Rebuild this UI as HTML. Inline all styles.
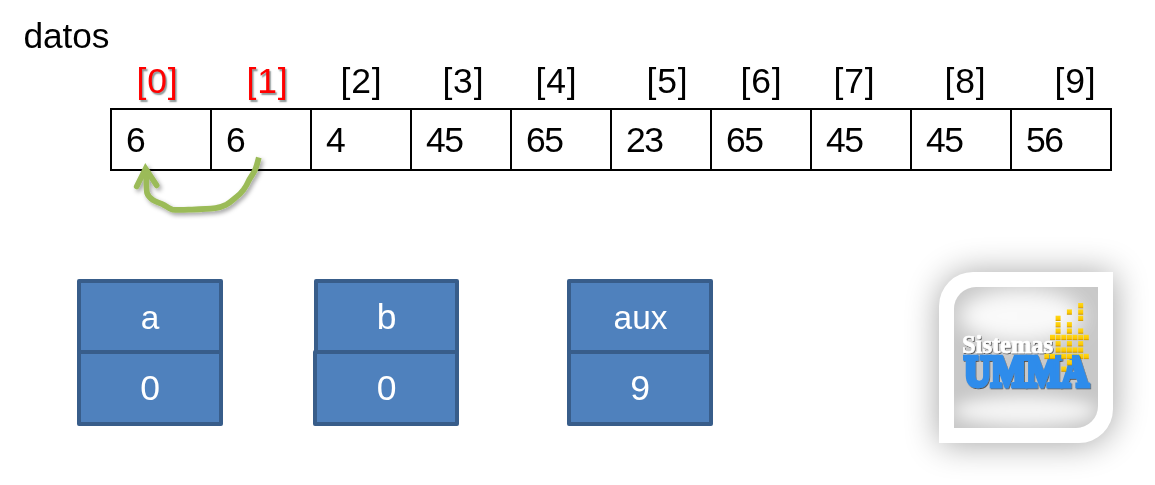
<!DOCTYPE html>
<html lang="es">
<head>
<meta charset="utf-8">
<title>datos</title>
<style>
html,body{margin:0;padding:0;background:#fff;}
body{width:1155px;height:485px;position:relative;overflow:hidden;font-family:"Liberation Sans",sans-serif;color:#000;}
.t{position:absolute;left:0;top:0;will-change:transform;white-space:nowrap;line-height:40px;height:40px;font-size:35.5px;}
.idx{letter-spacing:0.8px;}
.red{color:#ff0000;text-shadow:1.5px 1.5px 1.5px rgba(40,60,60,.55);}
#grid{position:absolute;left:110px;top:108px;width:1002px;height:63px;box-sizing:border-box;border:2px solid #000;}
#grid i{position:absolute;top:0;width:2px;height:59px;background:#000;}
.cell{letter-spacing:-1.5px;}
.box{position:absolute;background:#4f81bd;border:4px solid #385d8a;box-sizing:border-box;border-radius:2px;}
.bt{color:#fff;text-align:center;width:146px;}
svg{position:absolute;overflow:visible;}
</style>
</head>
<body>
<div class="t " style="transform:translate(23.55px,16.20px);font-size:35.3px;letter-spacing:-.15px">datos</div>
<div class="t idx red" style="transform:translate(136.55px,61.00px)">[0]</div>
<div class="t idx red" style="transform:translate(246.55px,61.00px)">[1]</div>
<div class="t idx" style="transform:translate(340.55px,61.00px)">[2]</div>
<div class="t idx" style="transform:translate(442.45px,61.00px)">[3]</div>
<div class="t idx" style="transform:translate(535.55px,61.00px)">[4]</div>
<div class="t idx" style="transform:translate(646.55px,61.00px)">[5]</div>
<div class="t idx" style="transform:translate(740.55px,61.00px)">[6]</div>
<div class="t idx" style="transform:translate(833.55px,61.00px)">[7]</div>
<div class="t idx" style="transform:translate(944.55px,61.00px)">[8]</div>
<div class="t idx" style="transform:translate(1054.55px,61.00px)">[9]</div>
<div id="grid"><i style="left:98px"></i><i style="left:198px"></i><i style="left:298px"></i><i style="left:398px"></i><i style="left:498px"></i><i style="left:598px"></i><i style="left:698px"></i><i style="left:798px"></i><i style="left:898px"></i></div>
<div class="t cell" style="transform:translate(126.00px,119.90px)">6</div>
<div class="t cell" style="transform:translate(226.00px,119.90px)">6</div>
<div class="t cell" style="transform:translate(326.00px,119.90px)">4</div>
<div class="t cell" style="transform:translate(426.00px,119.90px)">45</div>
<div class="t cell" style="transform:translate(526.00px,119.90px)">65</div>
<div class="t cell" style="transform:translate(626.00px,119.90px)">23</div>
<div class="t cell" style="transform:translate(726.00px,119.90px)">65</div>
<div class="t cell" style="transform:translate(826.00px,119.90px)">45</div>
<div class="t cell" style="transform:translate(926.00px,119.90px)">45</div>
<div class="t cell" style="transform:translate(1026.00px,119.90px)">56</div>
<svg id="arrow" style="left:120px;top:150px" width="160" height="75" viewBox="120 150 160 75">
<defs><filter id="ash" x="-20%" y="-20%" width="140%" height="150%"><feDropShadow dx="2" dy="2.5" stdDeviation="1.9" flood-color="#000" flood-opacity=".36"/></filter></defs>
<g filter="url(#ash)" fill="none" stroke="#9bbb59" stroke-width="5.7">
<path d="M258.8 157.5 C257.5 163 256.5 167 254.8 170.5 C252 176 250.5 177 248.8 180.5 C247 185 245.5 187 243.2 190.2 C240.5 194 238.5 195.5 236 197.3 C232 200.5 229.5 203 226.5 204.6 C222.5 206.5 219.5 207.6 215.4 208.1 C207 209 198 209.3 190.3 209.6 C184 209.9 178 210.3 172.2 209.6 C168.5 208.5 166 206 163.2 204.6 C159.5 203 156 202 153.1 200.1 C150 198 148 196 147.1 193.1 C146.2 190 146.4 183 146.2 172" stroke-linecap="butt" stroke-linejoin="round"/>
<path d="M136.7 186.5 L145.6 168.6 L156.7 185.4" stroke-linecap="round" stroke-linejoin="miter" stroke-miterlimit="10"/>
</g>
</svg>

<div class="box" style="left:77px;top:279px;width:146px;height:75px"></div>
<div class="box" style="left:77px;top:350px;width:146px;height:76px"></div>
<div class="box" style="left:314px;top:279px;width:145px;height:75px"></div>
<div class="box" style="left:313px;top:350px;width:146px;height:76px"></div>
<div class="box" style="left:567px;top:279px;width:146px;height:75px"></div>
<div class="box" style="left:567px;top:350px;width:146px;height:76px"></div>
<div class="t bt" style="transform:translate(77.00px,298.20px);font-size:33.4px">a</div>
<div class="t bt" style="transform:translate(77.00px,368.40px)">0</div>
<div class="t bt" style="transform:translate(313.50px,297.40px)">b</div>
<div class="t bt" style="transform:translate(313.50px,368.40px)">0</div>
<div class="t bt" style="transform:translate(567.50px,298.20px);font-size:33.4px">aux</div>
<div class="t bt" style="transform:translate(567.00px,368.40px)">9</div>
<svg id="logo" style="left:890px;top:225px" width="265" height="260" viewBox="890 225 265 260">
<defs>
<filter id="glow" x="-50%" y="-50%" width="200%" height="200%"><feGaussianBlur stdDeviation="17"/></filter>
<filter id="hb" x="-50%" y="-80%" width="200%" height="260%"><feGaussianBlur stdDeviation="10"/></filter>
<filter id="hb2" x="-50%" y="-150%" width="200%" height="400%"><feGaussianBlur stdDeviation="8"/></filter>
<clipPath id="pc"><path d="M976 287 H1098 V406 A22 22 0 0 1 1076 428 H954 V309 A22 22 0 0 1 976 287 Z"/></clipPath>
<linearGradient id="yel" x1="0" y1="0" x2="0" y2="1"><stop offset="0" stop-color="#ffd91a"/><stop offset=".7" stop-color="#fcc700"/><stop offset=".86" stop-color="#e3ab00"/><stop offset="1" stop-color="#bd8c00"/></linearGradient>
<filter id="tsh" x="-10%" y="-20%" width="120%" height="150%"><feDropShadow dx=".8" dy="1" stdDeviation=".5" flood-color="#000" flood-opacity=".6"/></filter>
</defs>
<path d="M973 272 H1113 V409 A34 34 0 0 1 1079 443 H939 V306 A34 34 0 0 1 973 272 Z" fill="#000" opacity=".36" filter="url(#glow)" transform="translate(.5 1)"/>
<path d="M973 272 H1113 V409 A34 34 0 0 1 1079 443 H939 V306 A34 34 0 0 1 973 272 Z" fill="#fff"/>
<g clip-path="url(#pc)">
<rect x="950" y="283" width="152" height="149" fill="#c8c8c8"/>
<ellipse cx="1021" cy="316" rx="62" ry="27" fill="#fff" opacity=".9" filter="url(#hb)"/>
<ellipse cx="1025" cy="411" rx="72" ry="15" fill="#fff" opacity=".82" filter="url(#hb2)"/>
</g>
<g id="sq" fill="url(#yel)"><rect x="1078.2" y="303.0" width="5" height="5.3"/><rect x="1066.9" y="309.4" width="5" height="5.3"/><rect x="1078.2" y="309.4" width="5" height="5.3"/><rect x="1055.6" y="315.7" width="5" height="5.3"/><rect x="1078.2" y="315.7" width="5" height="5.3"/><rect x="1055.6" y="322.1" width="5" height="5.3"/><rect x="1066.9" y="322.1" width="5" height="5.3"/><rect x="1055.6" y="328.4" width="5" height="5.3"/><rect x="1066.9" y="328.4" width="5" height="5.3"/><rect x="1078.2" y="328.4" width="5" height="5.3"/><rect x="1050.0" y="334.8" width="5" height="5.3"/><rect x="1055.6" y="334.8" width="5" height="5.3"/><rect x="1061.3" y="334.8" width="5" height="5.3"/><rect x="1066.9" y="334.8" width="5" height="5.3"/><rect x="1072.5" y="334.8" width="5" height="5.3"/><rect x="1078.2" y="334.8" width="5" height="5.3"/><rect x="1083.8" y="334.8" width="5" height="5.3"/><rect x="1055.6" y="341.1" width="5" height="5.3"/><rect x="1066.9" y="341.1" width="5" height="5.3"/><rect x="1078.2" y="341.1" width="5" height="5.3"/><rect x="1055.6" y="347.4" width="5" height="5.3"/><rect x="1061.3" y="347.4" width="5" height="5.3"/><rect x="1066.9" y="347.4" width="5" height="5.3"/><rect x="1072.5" y="347.4" width="5" height="5.3"/><rect x="1078.2" y="347.4" width="5" height="5.3"/><rect x="1055.6" y="353.8" width="5" height="5.3"/><rect x="1072.5" y="353.8" width="5" height="5.3"/><rect x="1078.2" y="353.8" width="5" height="5.3"/></g>
<text x="962" y="352.6" font-family="'Liberation Serif',serif" font-weight="bold" font-size="25.2" fill="#fff" stroke="#fff" stroke-width=".65" textLength="91" lengthAdjust="spacingAndGlyphs" filter="url(#tsh)">Sistemas</text>
<text x="964" y="386.3" font-family="'Liberation Serif',serif" font-weight="bold" font-size="43.5" fill="#2e8ceb" stroke="#2e8ceb" stroke-width="4.5" stroke-linejoin="miter" textLength="124.6" lengthAdjust="spacingAndGlyphs" filter="url(#tsh)">UMMA</text>
<g fill="url(#yel)"><rect x="1044.4" y="353.8" width="5" height="5.3"/><rect x="1050.0" y="353.8" width="5" height="5.3"/><rect x="1061.3" y="353.8" width="5" height="5.3"/><rect x="1066.9" y="353.8" width="5" height="5.3"/><rect x="1083.8" y="353.8" width="5" height="5.3"/><rect x="1066.9" y="360.1" width="5" height="5.3"/><rect x="1061.3" y="366.5" width="5" height="5.3"/></g>
</svg>

</body>
</html>
